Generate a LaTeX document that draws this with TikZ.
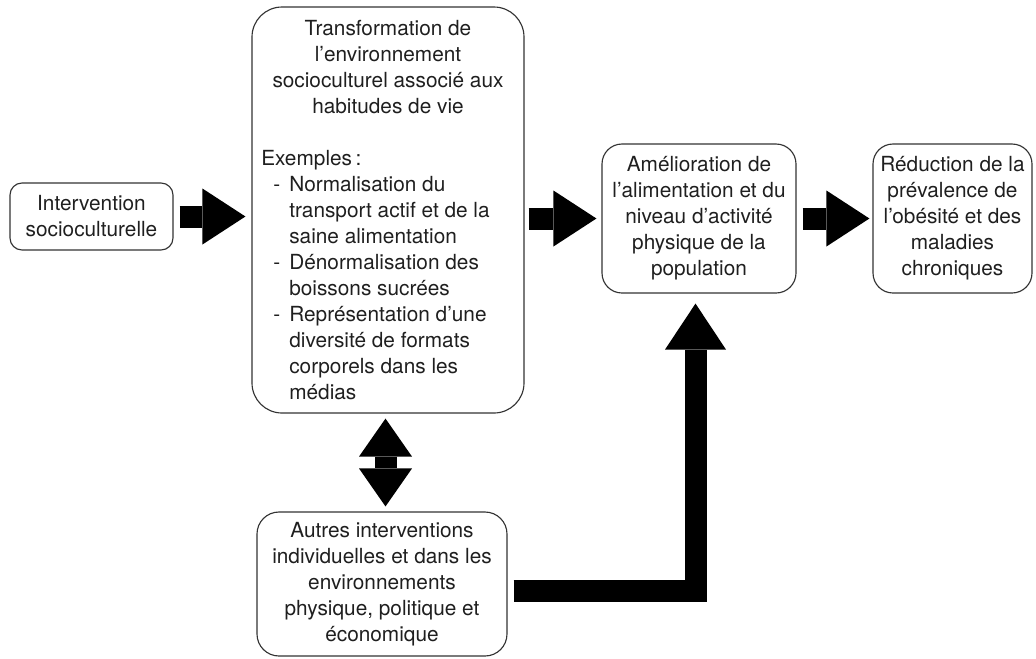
\documentclass[tikz,border=0pt]{standalone}
\usepackage{fontspec}
\setmainfont{TeX Gyre Heros}
\usetikzlibrary{arrows.meta}
\tikzset{
  box/.style={draw=black!80, line width=0.85pt, rounded corners=#1, inner sep=0pt,
    font=\fontsize{15.6pt}{19.5pt}\selectfont, text=black!88, align=center},
  blk/.style={draw=black, line width=16.5pt, line join=miter},
  rtip/.style={-{Triangle[length=32.25pt,width=42pt,line width=0pt]}},
  utip/.style={-{Triangle[length=34.5pt,width=45.75pt,line width=0pt]}},
  dtip/.style={{Triangle[length=28.5pt,width=39.75pt,line width=0pt]}-{Triangle[length=28.5pt,width=39.75pt,line width=0pt]}}
}
\begin{document}
\begin{tikzpicture}[x=0.75pt,y=-0.75pt]
\useasboundingbox (0,0) rectangle (1036,658);

\node[box=9pt, minimum width=122.25pt, minimum height=50.25pt] (ib) at (91.5,216.5)
  {Intervention\\socioculturelle};

\node[box=22.5pt, minimum width=204pt, minimum height=304.5pt, text width=190pt, align=none] (big) at (388,210)
  {\parindent=0pt\centering Transformation de\\ l’environnement\\ socioculturel associé aux\\ habitudes de vie\par
   \vspace{19.5pt}\raggedright Exemples\,:\\
   \hspace*{9pt}\makebox[12pt][l]{-}Normalisation du\\
   \hspace*{21pt}transport actif et de la\\
   \hspace*{21pt}saine alimentation\\
   \hspace*{9pt}\makebox[12pt][l]{-}Dénormalisation des\\
   \hspace*{21pt}boissons sucrées\\
   \hspace*{9pt}\makebox[12pt][l]{-}Représentation d’une\\
   \hspace*{21pt}diversité de formats\\
   \hspace*{21pt}corporels dans les\\
   \hspace*{21pt}médias\par};

\node[box=15pt, minimum width=145.5pt, minimum height=111.75pt] (amel) at (699,218.5)
  {Amélioration de\\l’alimentation et du\\niveau d’activité\\physique de la\\population};

\node[box=15pt, minimum width=119.25pt, minimum height=111.75pt] (red) at (952.5,218.5)
  {Réduction de la\\prévalence de\\l’obésité et des\\maladies\\chroniques};

\node[box=16.5pt, minimum width=187.5pt, minimum height=108pt] (autres) at (382,584)
  {Autres interventions\\individuelles et dans les\\environnements\\physique, politique et\\économique};

\draw[blk, rtip, shorten <=4.5pt, shorten >=4.5pt] (ib.east) -- (big.west |- ib.east);
\draw[blk, rtip, shorten <=3pt, shorten >=3.75pt] (big.east |- amel.west) -- (amel.west);
\draw[blk, rtip, shorten <=4.5pt, shorten >=2.25pt] (amel.east) -- (red.west);
\draw[blk, dtip] ([shift={(-2.5,5)}]big.south) -- ([shift={(3.5,-5)}]autres.north);
\draw[blk, utip] ([shift={(6,7)}]autres.east) -| ([shift={(-3.5,10)}]amel.south);
\end{tikzpicture}
\end{document}
